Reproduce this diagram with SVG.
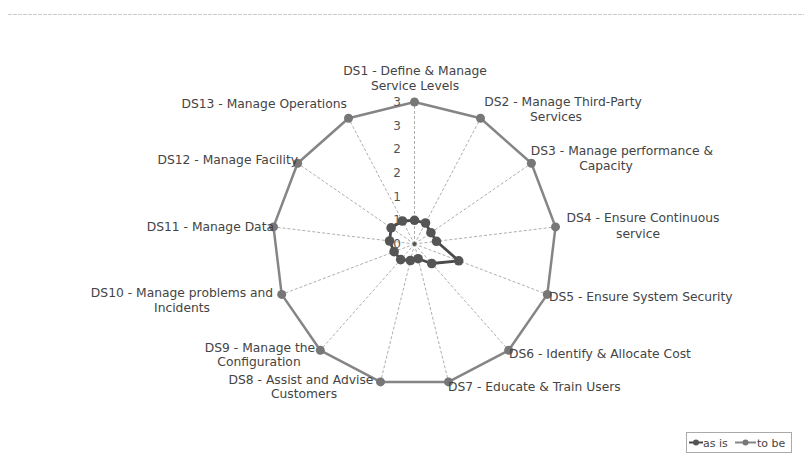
<svg xmlns="http://www.w3.org/2000/svg" width="804" height="462" viewBox="0 0 804 462">
<style>
.lbl{font-family:"DejaVu Sans",Verdana,sans-serif;font-size:12.3px;fill:#444}
.tick{font-family:"DejaVu Sans",Verdana,sans-serif;font-size:12px;fill:#555;text-anchor:end}
.spoke{stroke:#999;stroke-width:0.8;stroke-dasharray:3,2;fill:none}
.tobe{stroke:#858585;stroke-width:2.5;fill:none;stroke-linejoin:round}
.asis{stroke:#4a4a4a;stroke-width:2.8;fill:none;stroke-linejoin:round}
.dtobe{fill:#777}
.dasis{fill:#555}
.leg{font-family:"DejaVu Sans",Verdana,sans-serif;font-size:11px;fill:#444}
</style>
<line x1="8" y1="14.5" x2="804" y2="14.5" stroke="#ccc" stroke-width="1" stroke-dasharray="4,1"/>
<g id="grid">
<line class="spoke" x1="414.5" y1="244" x2="414.5" y2="102"/>
<line class="spoke" x1="414.5" y1="244" x2="480.5" y2="118.3"/>
<line class="spoke" x1="414.5" y1="244" x2="531.4" y2="163.3"/>
<line class="spoke" x1="414.5" y1="244" x2="555.5" y2="226.9"/>
<line class="spoke" x1="414.5" y1="244" x2="547.3" y2="294.4"/>
<line class="spoke" x1="414.5" y1="244" x2="508.7" y2="350.3"/>
<line class="spoke" x1="414.5" y1="244" x2="448.5" y2="381.9"/>
<line class="spoke" x1="414.5" y1="244" x2="380.5" y2="381.9"/>
<line class="spoke" x1="414.5" y1="244" x2="320.3" y2="350.3"/>
<line class="spoke" x1="414.5" y1="244" x2="281.7" y2="294.4"/>
<line class="spoke" x1="414.5" y1="244" x2="273.5" y2="226.9"/>
<line class="spoke" x1="414.5" y1="244" x2="297.6" y2="163.3"/>
<line class="spoke" x1="414.5" y1="244" x2="348.5" y2="118.3"/>
<circle cx="414.5" cy="244" r="2" fill="#555"/>
</g>
<g id="connectors">
<polygon id="series-tobe" class="tobe" points="414.5,102 480.5,118.3 531.4,163.3 555.5,226.9 547.3,294.4 508.7,350.3 448.5,381.9 380.5,381.9 320.3,350.3 281.7,294.4 273.5,226.9 297.6,163.3 348.5,118.3"/>
<polygon id="series-asis" class="asis" points="414.5,220.3 425.5,223 430.9,232.7 436.5,241.3 458.7,260.8 431.7,263.5 418.1,258.7 410.4,260.5 400.7,259.6 394.1,251.7 389.6,241 391.1,227.9 402.4,221"/>
</g>
<g id="tobe-points" class="dtobe">
<circle cx="414.5" cy="102" r="4.5"/><circle cx="480.5" cy="118.3" r="4.5"/><circle cx="531.4" cy="163.3" r="4.5"/><circle cx="555.5" cy="226.9" r="4.5"/><circle cx="547.3" cy="294.4" r="4.5"/><circle cx="508.7" cy="350.3" r="4.5"/><circle cx="448.5" cy="381.9" r="4.5"/><circle cx="380.5" cy="381.9" r="4.5"/><circle cx="320.3" cy="350.3" r="4.5"/><circle cx="281.7" cy="294.4" r="4.5"/><circle cx="273.5" cy="226.9" r="4.5"/><circle cx="297.6" cy="163.3" r="4.5"/><circle cx="348.5" cy="118.3" r="4.5"/>
</g>
<g id="asis-points" class="dasis">
<circle cx="414.5" cy="220.3" r="4.8"/><circle cx="425.5" cy="223" r="4.8"/><circle cx="430.9" cy="232.7" r="4.8"/><circle cx="436.5" cy="241.3" r="4.8"/><circle cx="458.7" cy="260.8" r="4.8"/><circle cx="431.7" cy="263.5" r="4.8"/><circle cx="418.1" cy="258.7" r="4.8"/><circle cx="410.4" cy="260.5" r="4.8"/><circle cx="400.7" cy="259.6" r="4.8"/><circle cx="394.1" cy="251.7" r="4.8"/><circle cx="389.6" cy="241" r="4.8"/><circle cx="391.1" cy="227.9" r="4.8"/><circle cx="402.4" cy="221" r="4.8"/>
</g>
<g id="ticks">
<text class="tick" x="401" y="106">3</text>
<text class="tick" x="401" y="130">3</text>
<text class="tick" x="401" y="153">2</text>
<text class="tick" x="401" y="177">2</text>
<text class="tick" x="401" y="201">1</text>
<text class="tick" x="401" y="224">1</text>
<text class="tick" x="401" y="248">0</text>
</g>
<g id="DS1"><text class="lbl" text-anchor="middle" x="415" y="75">DS1 - Define &amp; Manage</text><text class="lbl" text-anchor="middle" x="415" y="90">Service Levels</text></g>
<g id="DS2"><text class="lbl" text-anchor="middle" x="563" y="106">DS2 - Manage Third-Party</text><text class="lbl" text-anchor="middle" x="556" y="121">Services</text></g>
<g id="DS3"><text class="lbl" text-anchor="middle" x="622" y="155">DS3 - Manage performance &amp;</text><text class="lbl" text-anchor="middle" x="606" y="170">Capacity</text></g>
<g id="DS4"><text class="lbl" text-anchor="middle" x="643" y="222">DS4 - Ensure Continuous</text><text class="lbl" text-anchor="middle" x="638" y="238">service</text></g>
<g id="DS5"><text class="lbl" x="549" y="301">DS5 - Ensure System Security</text></g>
<g id="DS6"><text class="lbl" x="509" y="358">DS6 - Identify &amp; Allocate Cost</text></g>
<g id="DS7"><text class="lbl" x="448" y="391">DS7 - Educate &amp; Train Users</text></g>
<g id="DS8"><text class="lbl" text-anchor="middle" x="301" y="384">DS8 - Assist and Advise</text><text class="lbl" text-anchor="middle" x="304" y="398">Customers</text></g>
<g id="DS9"><text class="lbl" text-anchor="middle" x="260" y="352">DS9 - Manage the</text><text class="lbl" text-anchor="middle" x="259" y="366">Configuration</text></g>
<g id="DS10"><text class="lbl" text-anchor="middle" x="182" y="297">DS10 - Manage problems and</text><text class="lbl" text-anchor="middle" x="182" y="312">Incidents</text></g>
<g id="DS11"><text class="lbl" text-anchor="end" x="274" y="231">DS11 - Manage Data</text></g>
<g id="DS12"><text class="lbl" text-anchor="end" x="298" y="164">DS12 - Manage Facility</text></g>
<g id="DS13"><text class="lbl" text-anchor="end" x="347" y="108">DS13 - Manage Operations</text></g>
<g id="legend">
<rect x="686.5" y="432.5" width="105" height="20" fill="#fff" stroke="#aaa" stroke-width="1"/>
<line x1="689" y1="442.5" x2="703" y2="442.5" stroke="#4a4a4a" stroke-width="2"/><circle cx="696" cy="442.5" r="3" fill="#555"/>
<text class="leg" x="703" y="446.5">as is</text>
<line x1="735" y1="442.5" x2="756" y2="442.5" stroke="#858585" stroke-width="2"/><circle cx="745.5" cy="442.5" r="3" fill="#777"/>
<text class="leg" x="757" y="446.5">to be</text>
</g>
</svg>
